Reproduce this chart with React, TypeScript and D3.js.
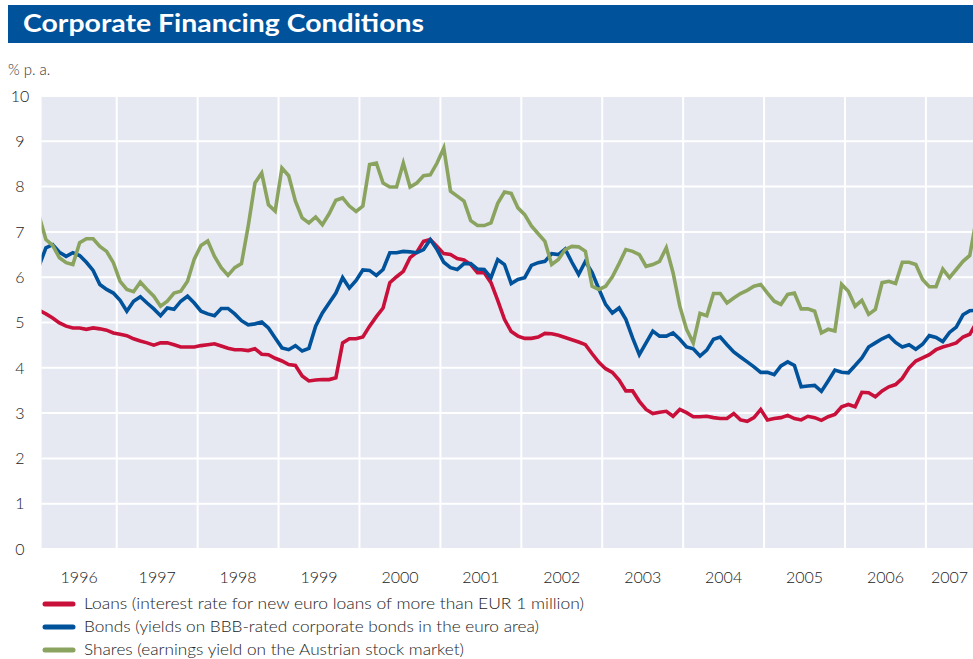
import React from 'react'
import * as d3 from 'd3'

// monthly observations, Jan 1996 .. Aug 2007 (% p. a.)
const loans = [
  5.27, 5.19, 5.10, 4.99, 4.92, 4.88, 4.88, 4.85, 4.88, 4.86, 4.83, 4.77,
  4.74, 4.71, 4.64, 4.59, 4.55, 4.50, 4.55, 4.55, 4.51, 4.46, 4.46, 4.46,
  4.49, 4.51, 4.53, 4.48, 4.43, 4.40, 4.40, 4.38, 4.42, 4.30, 4.29, 4.21,
  4.15, 4.07, 4.05, 3.82, 3.71, 3.73, 3.74, 3.74, 3.78, 4.55, 4.64, 4.64,
  4.68, 4.92, 5.13, 5.32, 5.88, 6.01, 6.13, 6.43, 6.55, 6.79, 6.83, 6.68,
  6.52, 6.50, 6.41, 6.38, 6.28, 6.10, 6.10, 5.88, 5.49, 5.07, 4.80, 4.70,
  4.65, 4.65, 4.68, 4.76, 4.75, 4.72, 4.67, 4.62, 4.57, 4.51, 4.31, 4.12,
  3.98, 3.90, 3.73, 3.49, 3.49, 3.26, 3.08, 2.99, 3.02, 3.04, 2.93, 3.08,
  3.01, 2.92, 2.92, 2.93, 2.90, 2.88, 2.88, 2.99, 2.85, 2.82, 2.90, 3.08,
  2.85, 2.88, 2.90, 2.95, 2.88, 2.85, 2.93, 2.90, 2.84, 2.92, 2.97, 3.14,
  3.19, 3.14, 3.46, 3.45, 3.36, 3.49, 3.58, 3.63, 3.77, 4.00, 4.15, 4.22,
  4.29, 4.40, 4.46, 4.50, 4.55, 4.68, 4.74, 5.00,
]

const bonds = [
  6.25, 6.65, 6.72, 6.55, 6.46, 6.54, 6.48, 6.33, 6.15, 5.84, 5.73, 5.65,
  5.49, 5.25, 5.47, 5.57, 5.43, 5.30, 5.15, 5.32, 5.29, 5.47, 5.58, 5.43,
  5.25, 5.19, 5.15, 5.31, 5.31, 5.19, 5.04, 4.95, 4.97, 5.01, 4.88, 4.66,
  4.44, 4.40, 4.49, 4.37, 4.43, 4.92, 5.21, 5.43, 5.65, 5.99, 5.76, 5.93,
  6.16, 6.15, 6.04, 6.17, 6.54, 6.54, 6.57, 6.56, 6.54, 6.61, 6.83, 6.61,
  6.33, 6.21, 6.17, 6.30, 6.30, 6.18, 6.17, 5.99, 6.39, 6.28, 5.86, 5.95,
  5.99, 6.26, 6.32, 6.35, 6.52, 6.50, 6.62, 6.33, 6.06, 6.35, 6.10, 5.74,
  5.40, 5.21, 5.32, 5.07, 4.66, 4.29, 4.55, 4.81, 4.70, 4.70, 4.77, 4.63,
  4.46, 4.42, 4.26, 4.39, 4.63, 4.68, 4.51, 4.35, 4.24, 4.13, 4.02, 3.90,
  3.90, 3.85, 4.04, 4.13, 4.05, 3.58, 3.60, 3.61, 3.48, 3.71, 3.95, 3.90,
  3.89, 4.05, 4.22, 4.46, 4.55, 4.64, 4.71, 4.56, 4.46, 4.51, 4.41, 4.52,
  4.71, 4.67, 4.58, 4.78, 4.90, 5.17, 5.26, 5.27,
]

const shares = [
  7.35, 6.83, 6.70, 6.43, 6.32, 6.28, 6.76, 6.85, 6.85, 6.68, 6.57, 6.32,
  5.91, 5.73, 5.68, 5.89, 5.73, 5.58, 5.36, 5.47, 5.65, 5.69, 5.91, 6.40,
  6.70, 6.80, 6.46, 6.21, 6.04, 6.21, 6.30, 7.13, 8.08, 8.30, 7.60, 7.46,
  8.41, 8.24, 7.68, 7.31, 7.20, 7.33, 7.16, 7.40, 7.70, 7.75, 7.57, 7.45,
  7.57, 8.49, 8.52, 8.08, 7.99, 7.99, 8.52, 7.99, 8.08, 8.24, 8.26, 8.52,
  8.85, 7.90, 7.79, 7.68, 7.25, 7.14, 7.14, 7.20, 7.63, 7.88, 7.85, 7.53,
  7.38, 7.13, 6.96, 6.79, 6.28, 6.39, 6.61, 6.68, 6.67, 6.57, 5.80, 5.73,
  5.80, 6.01, 6.30, 6.61, 6.57, 6.50, 6.24, 6.28, 6.35, 6.65, 6.10, 5.36,
  4.85, 4.55, 5.20, 5.15, 5.64, 5.64, 5.43, 5.54, 5.64, 5.71, 5.80, 5.84,
  5.65, 5.47, 5.40, 5.62, 5.65, 5.30, 5.30, 5.25, 4.77, 4.85, 4.81, 5.84,
  5.69, 5.36, 5.49, 5.18, 5.29, 5.88, 5.91, 5.86, 6.33, 6.33, 6.28, 5.95,
  5.79, 5.79, 6.18, 5.99, 6.17, 6.35, 6.48, 7.30,
]

const firstYear = 1996
const years = [1996, 1997, 1998, 1999, 2000, 2001, 2002, 2003, 2004, 2005, 2006, 2007]
const yTicks = [0, 1, 2, 3, 4, 5, 6, 7, 8, 9, 10]

const seriesNames = [
  'Loans (interest rate for new euro loans of more than EUR 1 million)',
  'Bonds (yields on BBB-rated corporate bonds in the euro area)',
  'Shares (earnings yield on the Austrian stock market)',
]
const seriesColors = ['#c8103a', '#00529b', '#8aa460']

const W = 973
const H = 659
const plot = { left: 41.6, right: 973, top: 96, bottom: 549 }
const font = 'Lato, "Open Sans", "DejaVu Sans", sans-serif'

export default function App() {
  const x = d3.scaleLinear().domain([1996, 2008]).range([35.8, 35.8 + 12 * 80.92])
  const y = d3.scaleLinear().domain([0, 10]).range([plot.bottom, plot.top])

  const line = d3
    .line<number>()
    .x((_, i) => x(firstYear + (i + 0.5) / 12))
    .y(d => y(d))

  const series = [loans, bonds, shares]
  const legendWidths = [500, 455, 380]

  return (
    <svg
      width={W}
      height={H}
      style={{ position: 'absolute', left: 0, top: 0, fontFamily: font }}
    >
      <defs>
        <clipPath id="plotClip">
          <rect x={plot.left} y={plot.top - 2} width={plot.right - plot.left} height={plot.bottom - plot.top + 4} />
        </clipPath>
      </defs>

      {/* title bar */}
      <rect x={8} y={5} width={W - 8} height={38} fill="#00529b" />
      <text x={23} y={32} fill="#fff" fontSize={24} fontWeight={700} textLength={401} lengthAdjust="spacingAndGlyphs">
        Corporate Financing Conditions
      </text>

      <text x={8} y={75} fill="#333" fontSize={15} fontWeight={300}>% p. a.</text>

      {/* plot background + grid */}
      <rect x={plot.left} y={plot.top} width={plot.right - plot.left} height={plot.bottom - plot.top} fill="#e7e9f2" />
      {yTicks.map(t => (
        <line key={'h' + t} x1={plot.left} x2={plot.right} y1={y(t)} y2={y(t)} stroke="#fff" strokeWidth={2} />
      ))}
      {years.slice(1).map(yr => (
        <line key={'v' + yr} x1={x(yr)} x2={x(yr)} y1={plot.top} y2={plot.bottom} stroke="#fff" strokeWidth={2} />
      ))}

      {/* y labels */}
      {yTicks.map(t => (
        <text key={'yl' + t} x={20} y={y(t)} dy="0.36em" textAnchor="middle" fontSize={16} fill="#222" fontWeight={300}>
          {t}
        </text>
      ))}

      {/* x labels centered in the visible part of each year */}
      {years.map(yr => {
        const a = Math.max(x(yr), plot.left)
        const b = Math.min(x(yr + 1), plot.right)
        return (
          <text key={'xl' + yr} x={(a + b) / 2} y={577} dy="0.36em" textAnchor="middle" fontSize={16} fill="#222" fontWeight={300}>
            {yr}
          </text>
        )
      })}

      {/* lines */}
      <g clipPath="url(#plotClip)">
        {series.map((s, k) => (
          <path key={k} d={line(s) || ''} fill="none" stroke={seriesColors[k]} strokeWidth={3.6} strokeLinejoin="miter" />
        ))}
      </g>

      {/* legend */}
      {seriesNames.map((name, k) => (
        <g key={'lg' + k} transform={`translate(0, ${604 + k * 23})`}>
          <line x1={45} x2={73} y1={0} y2={0} stroke={seriesColors[k]} strokeWidth={5} strokeLinecap="round" />
          <text x={84} y={0} dy="0.34em" fontSize={16} fill="#222" fontWeight={300} textLength={legendWidths[k]} lengthAdjust="spacingAndGlyphs">
            {name}
          </text>
        </g>
      ))}
    </svg>
  )
}
